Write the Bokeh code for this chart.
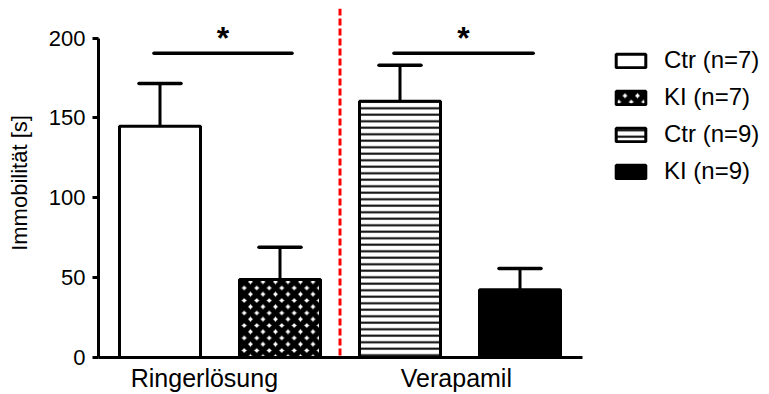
from bokeh.plotting import figure
from bokeh.models import Range1d, FixedTicker, Span, Legend, LegendItem, ColumnDataSource
from bokeh.core.properties import value
from bokeh.embed import file_html
from bokeh.resources import INLINE

# ---- data ----
groups = ["Ringerlösung", "Verapamil"]
group_tick_pos = [1.37, 3.47]
series = ["Ctr (n=7)", "KI (n=7)", "Ctr (n=9)", "KI (n=9)"]
bar_x = [1, 2, 3, 4]
means = [144.8, 48.9, 160.5, 42.4]
sems = [26.8, 20.1, 22.5, 13.4]
y_ticks = [0, 50, 100, 150, 200]
sig_x0 = [0.95, 2.95]
sig_x1 = [2.10, 4.11]
sig_y = [190.5, 190.5]
sig_labels = ["*", "*"]
divider_x = 2.5

FONT = "Liberation Sans"
FRAME_W = 670
FRAME_H = 349
PX_PER_X = 120.0
PX_PER_Y = 1.597

p = figure(frame_width=FRAME_W, frame_height=FRAME_H,
           output_backend="svg", toolbar_location=None,
           x_range=Range1d(0.4875, 0.4875 + FRAME_W / PX_PER_X),
           y_range=Range1d(0, FRAME_H / PX_PER_Y),
           min_border_left=98, min_border_right=0, min_border_top=8,
           min_border_bottom=0)
p.outline_line_color = None
p.grid.grid_line_color = None
p.background_fill_color = "white"

styles = [
    dict(fill_color="white"),
    dict(fill_color="white", hatch_pattern="diagonal_cross", hatch_scale=12.5,
         hatch_weight=5.5, hatch_color="black"),
    dict(fill_color="white", hatch_pattern="horizontal_line", hatch_scale=6.5,
         hatch_weight=2, hatch_color="black"),
    dict(fill_color="black"),
]

renderers = []
for i in range(4):
    src = ColumnDataSource(dict(x=[bar_x[i]], top=[means[i]]))
    r = p.vbar(x="x", top="top", bottom=0, width=0.675, source=src,
               line_color="black", line_width=3, **styles[i])
    renderers.append(r)

# error bars (upper only)
err_top = [m + s for m, s in zip(means, sems)]
p.segment(x0=bar_x, y0=means, x1=bar_x, y1=err_top, line_color="black", line_width=3)
cap = 0.175
p.segment(x0=[x - cap for x in bar_x], y0=err_top, x1=[x + cap for x in bar_x], y1=err_top,
          line_color="black", line_width=3.5, line_cap="round")

# significance
p.segment(x0=sig_x0, y0=sig_y, x1=sig_x1, y1=sig_y, line_color="black",
          line_width=3.5, line_cap="round")
p.text(x=[(a + b) / 2 for a, b in zip(sig_x0, sig_x1)], y=sig_y, text=sig_labels,
       text_font=value(FONT), text_font_size="32px", text_font_style="bold",
       text_align="center", text_baseline="alphabetic", text_color="black",
       y_offset=-15)

# divider
p.add_layout(Span(location=divider_x, dimension="height", line_color="#ff0000",
                  line_width=3, line_dash="7 3"))

# axes
yax = p.yaxis[0]
yax.ticker = FixedTicker(ticks=y_ticks)
yax.bounds = (0, 200)
yax.axis_label = "Immobilität [s]"
yax.axis_label_text_font = FONT
yax.axis_label_text_font_size = "22px"
yax.axis_label_text_font_style = "normal"
yax.axis_label_text_color = "black"
yax.axis_label_standoff = 14
yax.major_label_text_font = FONT
yax.major_label_text_font_size = "22px"
yax.major_label_text_color = "black"
yax.major_label_standoff = 7
yax.axis_line_width = 3
yax.axis_line_color = "black"
yax.major_tick_line_width = 3
yax.major_tick_line_color = "black"
yax.major_tick_out = 6
yax.major_tick_in = 0
yax.minor_tick_line_color = None

xax = p.xaxis[0]
xax.ticker = FixedTicker(ticks=group_tick_pos)
xax.major_label_overrides = {t: g for t, g in zip(group_tick_pos, groups)}
xax.bounds = (0.4875, 4.52)
xax.major_label_text_font = FONT
xax.major_label_text_font_size = "25px"
xax.major_label_text_color = "black"
xax.major_label_standoff = 6
xax.axis_label_standoff = 0
xax.axis_line_width = 3
xax.axis_line_color = "black"
xax.major_tick_line_color = None
xax.major_tick_out = 0
xax.major_tick_in = 0
xax.minor_tick_line_color = None

legend = Legend(items=[LegendItem(label=series[i], renderers=[renderers[i]]) for i in range(4)],
                location=(514, 172), orientation="vertical",
                glyph_width=37, glyph_height=17, label_standoff=15, spacing=9,
                padding=0, margin=0, border_line_color=None, background_fill_alpha=0,
                label_text_font=FONT, label_text_font_size="24px",
                label_text_color="black")
p.add_layout(legend)

open("out.html", "w").write(file_html(p, INLINE))
